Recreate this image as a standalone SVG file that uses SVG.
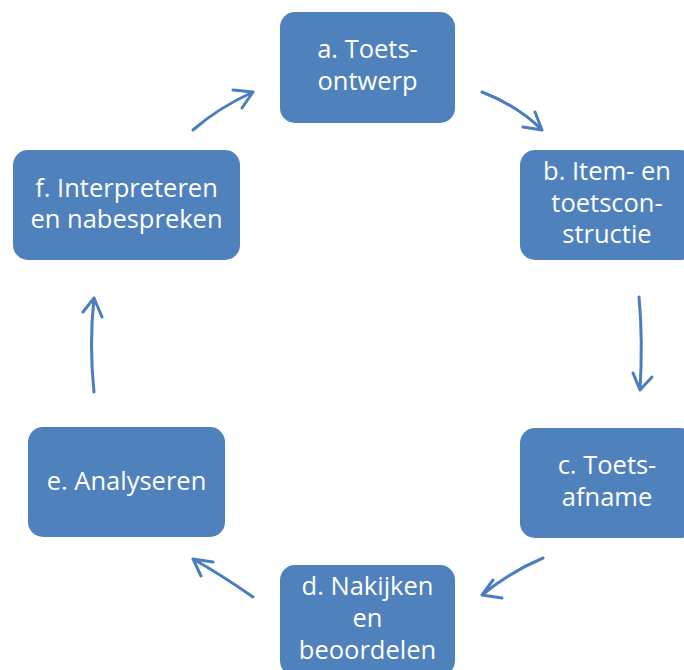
<svg xmlns="http://www.w3.org/2000/svg" width="684" height="670" viewBox="0 0 684 670">
<style>
.box{fill:#4F81BD;}
.lbl{font-family:"Open Sans","Noto Sans","Liberation Sans",sans-serif;font-size:25.5px;fill:#FFFFFF;text-anchor:middle;}
.arr{fill:none;stroke:#4A7EBE;stroke-width:3;stroke-linecap:round;stroke-linejoin:round;}
</style>
<rect width="684" height="670" fill="#FFFFFF"/>
<g id="node-a">
<rect class="box" x="280" y="12" width="175" height="111" rx="15"/>
<text class="lbl" x="367.5" y="58">a. Toets-</text>
<text class="lbl" x="367.5" y="90">ontwerp</text>
</g>
<g id="node-b">
<rect class="box" x="520" y="150" width="175" height="110" rx="15"/>
<text class="lbl" x="607" y="180">b. Item- en</text>
<text class="lbl" x="607" y="212">toetscon-</text>
<text class="lbl" x="607" y="243">structie</text>
</g>
<g id="node-c">
<rect class="box" x="520" y="428" width="175" height="110" rx="15"/>
<text class="lbl" x="607" y="474">c. Toets-</text>
<text class="lbl" x="607" y="506">afname</text>
</g>
<g id="node-d">
<rect class="box" x="280" y="565" width="175" height="111" rx="15"/>
<text class="lbl" x="367.5" y="595">d. Nakijken</text>
<text class="lbl" x="367.5" y="627">en</text>
<text class="lbl" x="367.5" y="659">beoordelen</text>
</g>
<g id="node-e">
<rect class="box" x="28" y="427" width="197" height="110" rx="15"/>
<text class="lbl" x="126.5" y="490">e. Analyseren</text>
</g>
<g id="node-f">
<rect class="box" x="13" y="150" width="227" height="110" rx="15"/>
<text class="lbl" x="126.5" y="197">f. Interpreteren</text>
<text class="lbl" x="126.5" y="228">en nabespreken</text>
</g>
<g id="connectors">
<path class="arr" d="M193,130 Q218,108 253,92 M253,92 L233,90 M253,92 L242,108"/>
<path class="arr" d="M482,92 Q518,106 542,130 M542,130 L523,127 M542,130 L535,112"/>
<path class="arr" d="M639,297 Q643,340 640,390 M640,390 L633,373 M640,390 L652,377"/>
<path class="arr" d="M543,558 Q510,572 482,595 M482,595 L493,580 M482,595 L502,598"/>
<path class="arr" d="M253,597 Q220,574 193,559 M193,559 L213,562 M193,559 L201,576"/>
<path class="arr" d="M94,392 Q89,345 94,298 M94,298 L83,312 M94,298 L102,317"/>
</g>
</svg>
